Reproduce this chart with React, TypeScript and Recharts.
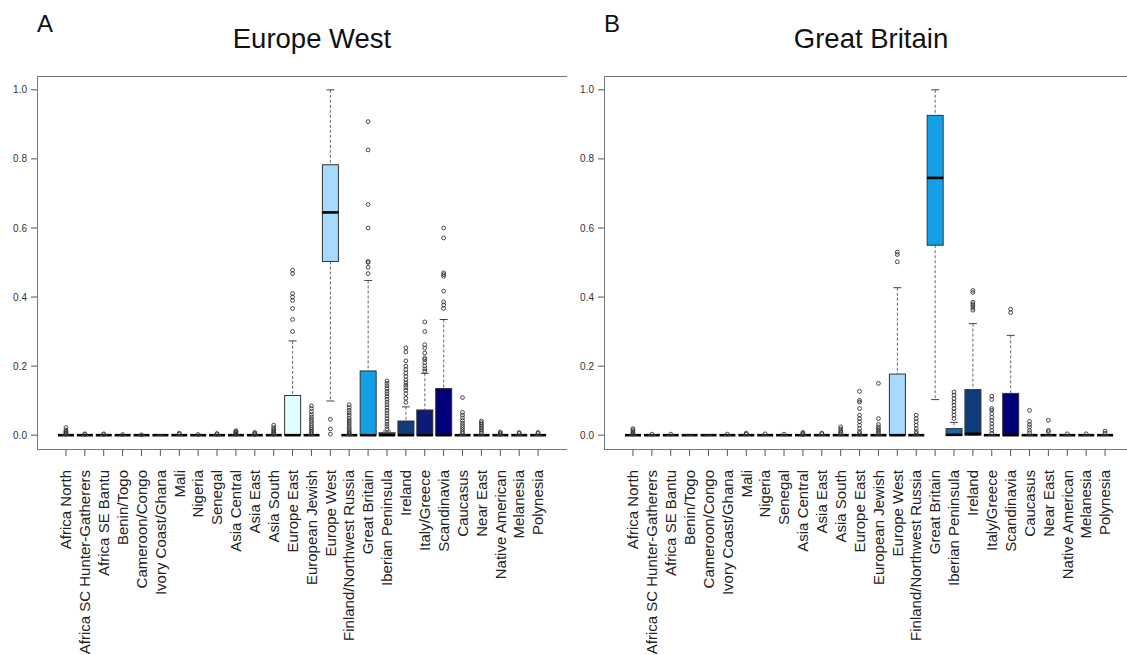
import React from "react";
import { ComposedChart, Bar, Scatter, XAxis, YAxis } from "recharts";

const categories = [
  "Africa North", "Africa SC Hunter-Gatherers", "Africa SE Bantu", "Benin/Togo",
  "Cameroon/Congo", "Ivory Coast/Ghana", "Mali", "Nigeria", "Senegal",
  "Asia Central", "Asia East", "Asia South", "Europe East", "European Jewish",
  "Europe West", "Finland/Northwest Russia", "Great Britain", "Iberian Peninsula",
  "Ireland", "Italy/Greece", "Scandinavia", "Caucasus", "Near East",
  "Native American", "Melanesia", "Polynesia",
];

const yTicks = [0, 0.2, 0.4, 0.6, 0.8, 1.0];

// Panel A: Europe West reference samples
const ewLow = [0, 0, 0, 0, 0, 0, 0, 0, 0, 0, 0, 0, 0, 0, 0.099, 0, 0, 0, 0, 0, 0, 0, 0, 0, 0, 0];
const ewQ1 = [0, 0, 0, 0, 0, 0, 0, 0, 0, 0, 0, 0, 0, 0, 0.503, 0, 0, 0, 0, 0, 0, 0, 0, 0, 0, 0];
const ewMed = [0, 0, 0, 0, 0, 0, 0, 0, 0, 0, 0, 0, 0, 0, 0.645, 0, 0, 0, 0, 0, 0, 0, 0, 0, 0, 0];
const ewQ3 = [0, 0, 0, 0, 0, 0, 0, 0, 0, 0, 0, 0, 0.115, 0, 0.783, 0, 0.186, 0.007, 0.041, 0.073, 0.135, 0, 0, 0, 0, 0];
const ewHigh = [0, 0, 0, 0, 0, 0, 0, 0, 0, 0, 0, 0, 0.273, 0, 1.0, 0, 0.448, 0.012, 0.082, 0.179, 0.335, 0, 0, 0, 0, 0];
const ewColors = [
  "#fff", "#fff", "#fff", "#fff", "#fff", "#fff", "#fff", "#fff", "#fff", "#fff", "#fff", "#fff",
  "#DDFFFF", "#fff", "#A6DAFF", "#fff", "#14A0E6", "#0C4A78", "#0F3C7A", "#0C1A78", "#00007A",
  "#fff", "#fff", "#fff", "#fff", "#fff",
];
const ewOutliers = [
  [0.022, 0.015, 0.011, 0.008, 0.005, 0.003],
  [0.004, 0.002],
  [0.004, 0.002],
  [0.002],
  [0.001],
  [],
  [0.006, 0.003],
  [0.002],
  [0.005, 0.002],
  [0.013, 0.01, 0.008, 0.005, 0.003],
  [0.008, 0.005, 0.002],
  [0.029, 0.022, 0.017, 0.013, 0.009, 0.006, 0.003],
  [0.478, 0.468, 0.41, 0.4, 0.39, 0.367, 0.335, 0.3],
  [0.085, 0.077, 0.068, 0.06, 0.053, 0.046, 0.04, 0.034, 0.028, 0.022, 0.017, 0.012, 0.008, 0.004],
  [0.046, 0.018, 0.003],
  [0.088, 0.08, 0.072, 0.065, 0.058, 0.05, 0.044, 0.038, 0.032, 0.026, 0.02, 0.015, 0.01, 0.006, 0.003],
  [0.908, 0.826, 0.668, 0.6, 0.503, 0.5, 0.486, 0.468],
  [0.157, 0.15, 0.143, 0.135, 0.127, 0.12, 0.112, 0.104, 0.096, 0.088, 0.08, 0.072, 0.064, 0.056, 0.048, 0.04, 0.032, 0.025, 0.018],
  [0.253, 0.241, 0.215, 0.2, 0.19, 0.18, 0.17, 0.16, 0.152, 0.145, 0.138, 0.13, 0.12, 0.107, 0.095],
  [0.328, 0.3, 0.262, 0.252, 0.238, 0.224, 0.219, 0.21, 0.2, 0.192, 0.185],
  [0.6, 0.571, 0.47, 0.465, 0.46, 0.417, 0.386, 0.377, 0.367],
  [0.109, 0.066, 0.058, 0.05, 0.042, 0.035, 0.028, 0.022, 0.016, 0.01, 0.005],
  [0.041, 0.036, 0.031, 0.026, 0.021, 0.016, 0.011, 0.006],
  [0.009, 0.006, 0.003],
  [0.008, 0.005],
  [0.008, 0.005],
];

// Panel B: Great Britain reference samples
const gbLow = [0, 0, 0, 0, 0, 0, 0, 0, 0, 0, 0, 0, 0, 0, 0, 0, 0.103, 0, 0, 0, 0, 0, 0, 0, 0, 0];
const gbQ1 = [0, 0, 0, 0, 0, 0, 0, 0, 0, 0, 0, 0, 0, 0, 0, 0, 0.55, 0, 0, 0, 0, 0, 0, 0, 0, 0];
const gbMed = [0, 0, 0, 0, 0, 0, 0, 0, 0, 0, 0, 0, 0, 0, 0, 0, 0.745, 0.001, 0.004, 0, 0, 0, 0, 0, 0, 0];
const gbQ3 = [0, 0, 0, 0, 0, 0, 0, 0, 0, 0, 0, 0, 0, 0, 0.177, 0, 0.926, 0.019, 0.132, 0, 0.121, 0, 0, 0, 0, 0];
const gbHigh = [0, 0, 0, 0, 0, 0, 0, 0, 0, 0, 0, 0, 0, 0, 0.427, 0, 1.0, 0.037, 0.323, 0, 0.289, 0, 0, 0, 0, 0];
const gbColors = [
  "#fff", "#fff", "#fff", "#fff", "#fff", "#fff", "#fff", "#fff", "#fff", "#fff", "#fff", "#fff",
  "#fff", "#fff", "#A6DAFF", "#fff", "#14A0E6", "#1068B0", "#0F3C7A", "#fff", "#00007A",
  "#fff", "#fff", "#fff", "#fff", "#fff",
];
const gbOutliers = [
  [0.019, 0.015, 0.01, 0.006, 0.003],
  [0.003],
  [0.003],
  [],
  [],
  [0.003],
  [0.006, 0.003],
  [0.004],
  [0.003],
  [0.008, 0.005, 0.002],
  [0.006, 0.004],
  [0.024, 0.018, 0.012, 0.008, 0.004],
  [0.127, 0.101, 0.096, 0.077, 0.058, 0.048, 0.039, 0.029, 0.019, 0.01, 0.005],
  [0.15, 0.048, 0.031, 0.024, 0.019, 0.014, 0.01, 0.005],
  [0.53, 0.523, 0.502],
  [0.058, 0.048, 0.039, 0.029, 0.019, 0.01, 0.005],
  [],
  [0.125, 0.116, 0.106, 0.096, 0.087, 0.077, 0.068, 0.058, 0.048],
  [0.419, 0.413, 0.385, 0.38, 0.375, 0.368, 0.362],
  [0.113, 0.103, 0.077, 0.072, 0.062, 0.052, 0.043, 0.033, 0.024, 0.014, 0.005],
  [0.365, 0.355],
  [0.072, 0.04, 0.031, 0.024, 0.014, 0.007],
  [0.043, 0.014, 0.01],
  [0.004],
  [0.004],
  [0.012, 0.006],
];

const FONT = '"Liberation Sans", Arial, Helvetica, sans-serif';
const W = 567;
const H = 655;
const PLOT = { left: 37, top: 76, width: 530, height: 373 };

function buildRows(lo: number[], q1: number[], med: number[], q3: number[], hi: number[], colors: string[], out: number[][]) {
  return categories.map((name, i) => ({
    name,
    base: lo[i],
    w1: q1[i] - lo[i],
    b1: med[i] - q1[i],
    b2: q3[i] - med[i],
    w2: hi[i] - q3[i],
    color: colors[i],
    out: out[i],
  }));
}

const WhiskerLow = (p: any) => {
  const cx = p.x + p.width / 2;
  const cap = p.width / 4;
  const yb = p.y + p.height;
  return (
    <g>
      <line x1={cx} x2={cx} y1={p.y} y2={yb} stroke="#666" strokeDasharray="3 2" />
      <line x1={cx - cap} x2={cx + cap} y1={yb} y2={yb} stroke="#444" />
    </g>
  );
};

const WhiskerHigh = (p: any) => {
  const cx = p.x + p.width / 2;
  const cap = p.width / 4;
  return (
    <g>
      <line x1={cx} x2={cx} y1={p.y} y2={p.y + p.height} stroke="#666" strokeDasharray="3 2" />
      <line x1={cx - cap} x2={cx + cap} y1={p.y} y2={p.y} stroke="#444" />
    </g>
  );
};

const BoxLow = (p: any) => (
  <rect x={p.x} y={p.y} width={p.width} height={Math.max(p.height, 0)} fill={p.payload.color} stroke="#333" strokeWidth={1} />
);

const BoxHigh = (p: any) => (
  <g>
    <rect x={p.x} y={p.y} width={p.width} height={Math.max(p.height, 0)} fill={p.payload.color} stroke="#333" strokeWidth={1} />
    <line x1={p.x} x2={p.x + p.width} y1={p.y + p.height} y2={p.y + p.height} stroke="#000" strokeWidth={2.6} />
  </g>
);

const CatTick = (p: any) => (
  <text
    x={p.x}
    y={p.y}
    transform={`rotate(-90 ${p.x} ${p.y})`}
    textAnchor="end"
    dy="0.35em"
    fontSize={15}
    fill="#222"
    fontFamily={FONT}
  >
    {p.payload.value}
  </text>
);

const maxOut = Math.max(...ewOutliers.map((o) => o.length), ...gbOutliers.map((o) => o.length));
const slots = Array.from({ length: maxOut }, (_, k) => k);

function Panel({ left, letter, title, titleX, rows }: any) {
  return (
    <div style={{ position: "absolute", left, top: 0, width: W, height: H }}>
      <ComposedChart width={W} height={H} data={rows} margin={{ top: PLOT.top, right: 0, bottom: 0, left: 0 }} barCategoryGap="8%">
        <XAxis
          dataKey="name"
          interval={0}
          height={H - PLOT.top - PLOT.height}
          padding={{ left: 19.5, right: 19.5 }}
          axisLine={false}
          tickLine={{ stroke: "#555" }}
          tickSize={7}
          tickMargin={14}
          tick={<CatTick />}
        />
        <YAxis
          width={PLOT.left}
          domain={[-0.04, 1.04]}
          allowDataOverflow
          ticks={yTicks}
          tickFormatter={(v: number) => v.toFixed(1)}
          axisLine={false}
          tickLine={{ stroke: "#555" }}
          tickSize={6}
          tickMargin={4}
          tick={{ fontSize: 10, fill: "#333", fontFamily: FONT }}
        />
        <Bar dataKey="base" stackId="b" fill="none" shape={() => <g />} isAnimationActive={false} />
        <Bar dataKey="w1" stackId="b" shape={WhiskerLow} isAnimationActive={false} />
        <Bar dataKey="b1" stackId="b" shape={BoxLow} isAnimationActive={false} />
        <Bar dataKey="b2" stackId="b" shape={BoxHigh} isAnimationActive={false} />
        <Bar dataKey="w2" stackId="b" shape={WhiskerHigh} isAnimationActive={false} />
        {slots.map((k) => (
          <Scatter
            key={k}
            dataKey={(d: any) => (d.out[k] === undefined ? null : d.out[k])}
            isAnimationActive={false}
            shape={(p: any) =>
              p.payload && p.payload.out[k] !== undefined ? (
                <circle cx={p.cx} cy={p.cy} r={1.9} fill="none" stroke="#333" strokeWidth={0.9} />
              ) : (
                <g />
              )
            }
          />
        ))}
      </ComposedChart>
      <svg width={W} height={H} style={{ position: "absolute", left: 0, top: 0, pointerEvents: "none" }}>
        <rect x={PLOT.left + 0.5} y={PLOT.top + 0.5} width={PLOT.width} height={PLOT.height} fill="none" stroke="#777" strokeWidth={1} />
        <text x={37} y={32} fontSize={24} fill="#111" fontFamily={FONT}>{letter}</text>
        <text x={titleX} y={48} fontSize={27.5} fill="#111" textAnchor="middle" fontFamily={FONT}>{title}</text>
      </svg>
    </div>
  );
}

export default function App() {
  const rowsA = buildRows(ewLow, ewQ1, ewMed, ewQ3, ewHigh, ewColors, ewOutliers);
  const rowsB = buildRows(gbLow, gbQ1, gbMed, gbQ3, gbHigh, gbColors, gbOutliers);
  return (
    <div style={{ position: "absolute", left: 0, top: 0, width: 1127, height: 655, overflow: "hidden", background: "#fff", fontFamily: FONT }}>
      <Panel left={0} letter="A" title="Europe West" titleX={312} rows={rowsA} />
      <Panel left={567} letter="B" title="Great Britain" titleX={304} rows={rowsB} />
    </div>
  );
}
